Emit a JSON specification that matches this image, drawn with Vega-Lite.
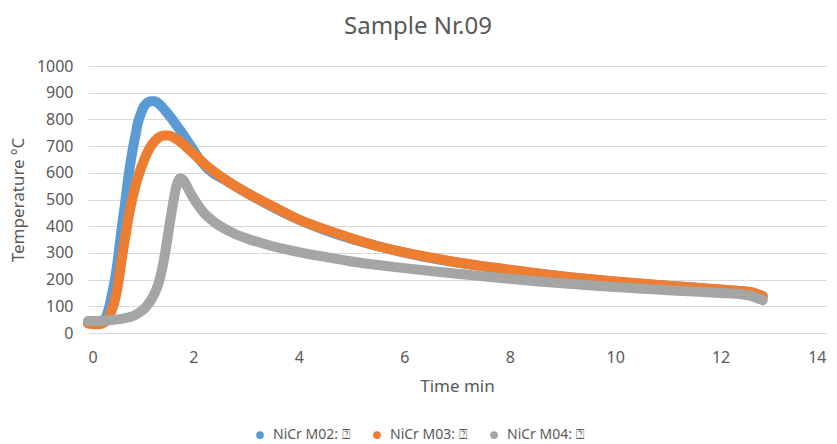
{
  "$schema": "https://vega.github.io/schema/vega-lite/v6.json",
  "width": 738,
  "height": 267,
  "autosize": {"type": "none"},
  "padding": {"left": 88, "top": 66, "right": 11, "bottom": 111},
  "background": "white",
  "title": {"text": "Sample Nr.09", "fontSize": 24, "fontWeight": "normal", "color": "#595959", "font": "Noto Sans", "offset": 19, "dx": -39},
  "config": {
    "view": {"stroke": null},
    "font": "Noto Sans",
    "axis": {"labelColor": "#595959", "titleColor": "#595959", "labelFontSize": 16, "titleFontSize": 17, "titleFontWeight": "normal", "ticks": false, "domain": false, "gridColor": "#D9D9D9"}
  },
  "data": {"values": [
    {"s":"NiCr M02: ⍰","t":0,"v":42},{"s":"NiCr M02: ⍰","t":0.1,"v":42},{"s":"NiCr M02: ⍰","t":0.2,"v":43},{"s":"NiCr M02: ⍰","t":0.3,"v":50},{"s":"NiCr M02: ⍰","t":0.35,"v":65},{"s":"NiCr M02: ⍰","t":0.4,"v":95},{"s":"NiCr M02: ⍰","t":0.45,"v":140},{"s":"NiCr M02: ⍰","t":0.5,"v":190},{"s":"NiCr M02: ⍰","t":0.55,"v":250},{"s":"NiCr M02: ⍰","t":0.6,"v":330},{"s":"NiCr M02: ⍰","t":0.65,"v":410},{"s":"NiCr M02: ⍰","t":0.7,"v":480},{"s":"NiCr M02: ⍰","t":0.75,"v":560},{"s":"NiCr M02: ⍰","t":0.8,"v":630},{"s":"NiCr M02: ⍰","t":0.85,"v":690},{"s":"NiCr M02: ⍰","t":0.9,"v":740},{"s":"NiCr M02: ⍰","t":0.95,"v":790},{"s":"NiCr M02: ⍰","t":1.0,"v":820},{"s":"NiCr M02: ⍰","t":1.05,"v":845},{"s":"NiCr M02: ⍰","t":1.1,"v":858},{"s":"NiCr M02: ⍰","t":1.15,"v":865},{"s":"NiCr M02: ⍰","t":1.2,"v":868},{"s":"NiCr M02: ⍰","t":1.25,"v":868},{"s":"NiCr M02: ⍰","t":1.3,"v":865},{"s":"NiCr M02: ⍰","t":1.35,"v":858},{"s":"NiCr M02: ⍰","t":1.4,"v":848},{"s":"NiCr M02: ⍰","t":1.5,"v":825},{"s":"NiCr M02: ⍰","t":1.6,"v":800},{"s":"NiCr M02: ⍰","t":1.7,"v":772},{"s":"NiCr M02: ⍰","t":1.8,"v":745},{"s":"NiCr M02: ⍰","t":1.9,"v":715},{"s":"NiCr M02: ⍰","t":2.0,"v":685},{"s":"NiCr M02: ⍰","t":2.1,"v":655},{"s":"NiCr M02: ⍰","t":2.2,"v":630},{"s":"NiCr M02: ⍰","t":2.3,"v":610},{"s":"NiCr M02: ⍰","t":2.4,"v":595},{"s":"NiCr M02: ⍰","t":2.6,"v":573},{"s":"NiCr M02: ⍰","t":2.8,"v":549},{"s":"NiCr M02: ⍰","t":3.0,"v":526},{"s":"NiCr M02: ⍰","t":4.0,"v":424},{"s":"NiCr M02: ⍰","t":6.0,"v":301},{"s":"NiCr M02: ⍰","t":8.0,"v":236},{"s":"NiCr M02: ⍰","t":10.0,"v":192},{"s":"NiCr M02: ⍰","t":12.0,"v":162},{"s":"NiCr M02: ⍰","t":12.6,"v":151},{"s":"NiCr M02: ⍰","t":12.8,"v":138},
    {"s":"NiCr M03: ⍰","t":0,"v":35},{"s":"NiCr M03: ⍰","t":0.1,"v":33},{"s":"NiCr M03: ⍰","t":0.2,"v":33},{"s":"NiCr M03: ⍰","t":0.3,"v":38},{"s":"NiCr M03: ⍰","t":0.35,"v":45},{"s":"NiCr M03: ⍰","t":0.4,"v":60},{"s":"NiCr M03: ⍰","t":0.45,"v":85},{"s":"NiCr M03: ⍰","t":0.5,"v":115},{"s":"NiCr M03: ⍰","t":0.55,"v":160},{"s":"NiCr M03: ⍰","t":0.6,"v":220},{"s":"NiCr M03: ⍰","t":0.65,"v":290},{"s":"NiCr M03: ⍰","t":0.7,"v":350},{"s":"NiCr M03: ⍰","t":0.75,"v":410},{"s":"NiCr M03: ⍰","t":0.8,"v":465},{"s":"NiCr M03: ⍰","t":0.85,"v":510},{"s":"NiCr M03: ⍰","t":0.9,"v":550},{"s":"NiCr M03: ⍰","t":0.95,"v":585},{"s":"NiCr M03: ⍰","t":1.0,"v":615},{"s":"NiCr M03: ⍰","t":1.05,"v":640},{"s":"NiCr M03: ⍰","t":1.1,"v":665},{"s":"NiCr M03: ⍰","t":1.15,"v":685},{"s":"NiCr M03: ⍰","t":1.2,"v":702},{"s":"NiCr M03: ⍰","t":1.25,"v":715},{"s":"NiCr M03: ⍰","t":1.3,"v":725},{"s":"NiCr M03: ⍰","t":1.35,"v":733},{"s":"NiCr M03: ⍰","t":1.4,"v":738},{"s":"NiCr M03: ⍰","t":1.45,"v":740},{"s":"NiCr M03: ⍰","t":1.5,"v":740},{"s":"NiCr M03: ⍰","t":1.55,"v":739},{"s":"NiCr M03: ⍰","t":1.6,"v":735},{"s":"NiCr M03: ⍰","t":1.7,"v":723},{"s":"NiCr M03: ⍰","t":1.8,"v":708},{"s":"NiCr M03: ⍰","t":1.9,"v":690},{"s":"NiCr M03: ⍰","t":2.0,"v":672},{"s":"NiCr M03: ⍰","t":2.2,"v":635},{"s":"NiCr M03: ⍰","t":2.4,"v":603},{"s":"NiCr M03: ⍰","t":2.6,"v":575},{"s":"NiCr M03: ⍰","t":2.8,"v":550},{"s":"NiCr M03: ⍰","t":3.0,"v":527},{"s":"NiCr M03: ⍰","t":3.5,"v":475},{"s":"NiCr M03: ⍰","t":4.0,"v":425},{"s":"NiCr M03: ⍰","t":4.5,"v":388},{"s":"NiCr M03: ⍰","t":5.0,"v":355},{"s":"NiCr M03: ⍰","t":5.5,"v":325},{"s":"NiCr M03: ⍰","t":6.0,"v":302},{"s":"NiCr M03: ⍰","t":6.5,"v":283},{"s":"NiCr M03: ⍰","t":7.0,"v":265},{"s":"NiCr M03: ⍰","t":7.5,"v":250},{"s":"NiCr M03: ⍰","t":8.0,"v":237},{"s":"NiCr M03: ⍰","t":8.5,"v":224},{"s":"NiCr M03: ⍰","t":9.0,"v":212},{"s":"NiCr M03: ⍰","t":9.5,"v":202},{"s":"NiCr M03: ⍰","t":10.0,"v":193},{"s":"NiCr M03: ⍰","t":10.5,"v":185},{"s":"NiCr M03: ⍰","t":11.0,"v":177},{"s":"NiCr M03: ⍰","t":11.5,"v":170},{"s":"NiCr M03: ⍰","t":12.0,"v":163},{"s":"NiCr M03: ⍰","t":12.4,"v":157},{"s":"NiCr M03: ⍰","t":12.6,"v":152},{"s":"NiCr M03: ⍰","t":12.7,"v":145},{"s":"NiCr M03: ⍰","t":12.8,"v":137},
    {"s":"NiCr M04: ⍰","t":0,"v":45},{"s":"NiCr M04: ⍰","t":0.2,"v":45},{"s":"NiCr M04: ⍰","t":0.4,"v":48},{"s":"NiCr M04: ⍰","t":0.6,"v":52},{"s":"NiCr M04: ⍰","t":0.8,"v":60},{"s":"NiCr M04: ⍰","t":0.9,"v":68},{"s":"NiCr M04: ⍰","t":1.0,"v":80},{"s":"NiCr M04: ⍰","t":1.1,"v":98},{"s":"NiCr M04: ⍰","t":1.2,"v":125},{"s":"NiCr M04: ⍰","t":1.3,"v":165},{"s":"NiCr M04: ⍰","t":1.35,"v":195},{"s":"NiCr M04: ⍰","t":1.4,"v":235},{"s":"NiCr M04: ⍰","t":1.45,"v":285},{"s":"NiCr M04: ⍰","t":1.5,"v":345},{"s":"NiCr M04: ⍰","t":1.55,"v":410},{"s":"NiCr M04: ⍰","t":1.6,"v":470},{"s":"NiCr M04: ⍰","t":1.65,"v":525},{"s":"NiCr M04: ⍰","t":1.7,"v":565},{"s":"NiCr M04: ⍰","t":1.75,"v":580},{"s":"NiCr M04: ⍰","t":1.8,"v":575},{"s":"NiCr M04: ⍰","t":1.85,"v":560},{"s":"NiCr M04: ⍰","t":1.9,"v":540},{"s":"NiCr M04: ⍰","t":2.0,"v":505},{"s":"NiCr M04: ⍰","t":2.1,"v":475},{"s":"NiCr M04: ⍰","t":2.2,"v":450},{"s":"NiCr M04: ⍰","t":2.4,"v":415},{"s":"NiCr M04: ⍰","t":2.6,"v":390},{"s":"NiCr M04: ⍰","t":2.8,"v":370},{"s":"NiCr M04: ⍰","t":3.0,"v":355},{"s":"NiCr M04: ⍰","t":3.5,"v":325},{"s":"NiCr M04: ⍰","t":4.0,"v":303},{"s":"NiCr M04: ⍰","t":4.5,"v":285},{"s":"NiCr M04: ⍰","t":5.0,"v":268},{"s":"NiCr M04: ⍰","t":5.5,"v":255},{"s":"NiCr M04: ⍰","t":6.0,"v":243},{"s":"NiCr M04: ⍰","t":6.5,"v":232},{"s":"NiCr M04: ⍰","t":7.0,"v":222},{"s":"NiCr M04: ⍰","t":7.5,"v":212},{"s":"NiCr M04: ⍰","t":8.0,"v":203},{"s":"NiCr M04: ⍰","t":8.5,"v":194},{"s":"NiCr M04: ⍰","t":9.0,"v":186},{"s":"NiCr M04: ⍰","t":9.5,"v":179},{"s":"NiCr M04: ⍰","t":10.0,"v":172},{"s":"NiCr M04: ⍰","t":10.5,"v":166},{"s":"NiCr M04: ⍰","t":11.0,"v":160},{"s":"NiCr M04: ⍰","t":11.5,"v":155},{"s":"NiCr M04: ⍰","t":12.0,"v":150},{"s":"NiCr M04: ⍰","t":12.4,"v":145},{"s":"NiCr M04: ⍰","t":12.6,"v":138},{"s":"NiCr M04: ⍰","t":12.7,"v":130},{"s":"NiCr M04: ⍰","t":12.8,"v":123}
  ]},
  "mark": {"type": "line", "strokeWidth": 10, "strokeCap": "round", "strokeJoin": "round", "interpolate": "monotone"},
  "encoding": {
    "x": {"field": "t", "type": "quantitative", "scale": {"domain": [0, 14], "nice": false}, "axis": {"title": "Time min", "values": [0,2,4,6,8,10,12,14], "grid": false, "labelPadding": 16, "titlePadding": 13}},
    "y": {"field": "v", "type": "quantitative", "scale": {"domain": [0, 1000], "nice": false}, "axis": {"title": "Temperature ºC", "format": "d", "values": [0,100,200,300,400,500,600,700,800,900,1000], "grid": true, "labelPadding": 15, "titlePadding": 9}},
    "color": {"field": "s", "type": "nominal", "scale": {"domain": ["NiCr M02: ⍰","NiCr M03: ⍰","NiCr M04: ⍰"], "range": ["#5B9BD5","#ED7D31","#A5A5A5"]},
      "legend": {"title": null, "orient": "none", "direction": "horizontal", "legendX": 165, "legendY": 362, "symbolType": "circle", "symbolSize": 14, "symbolStrokeWidth": 4, "labelFontSize": 14, "labelColor": "#595959", "columnPadding": 17, "symbolOffset": 0, "labelOffset": 6}}
  }
}
